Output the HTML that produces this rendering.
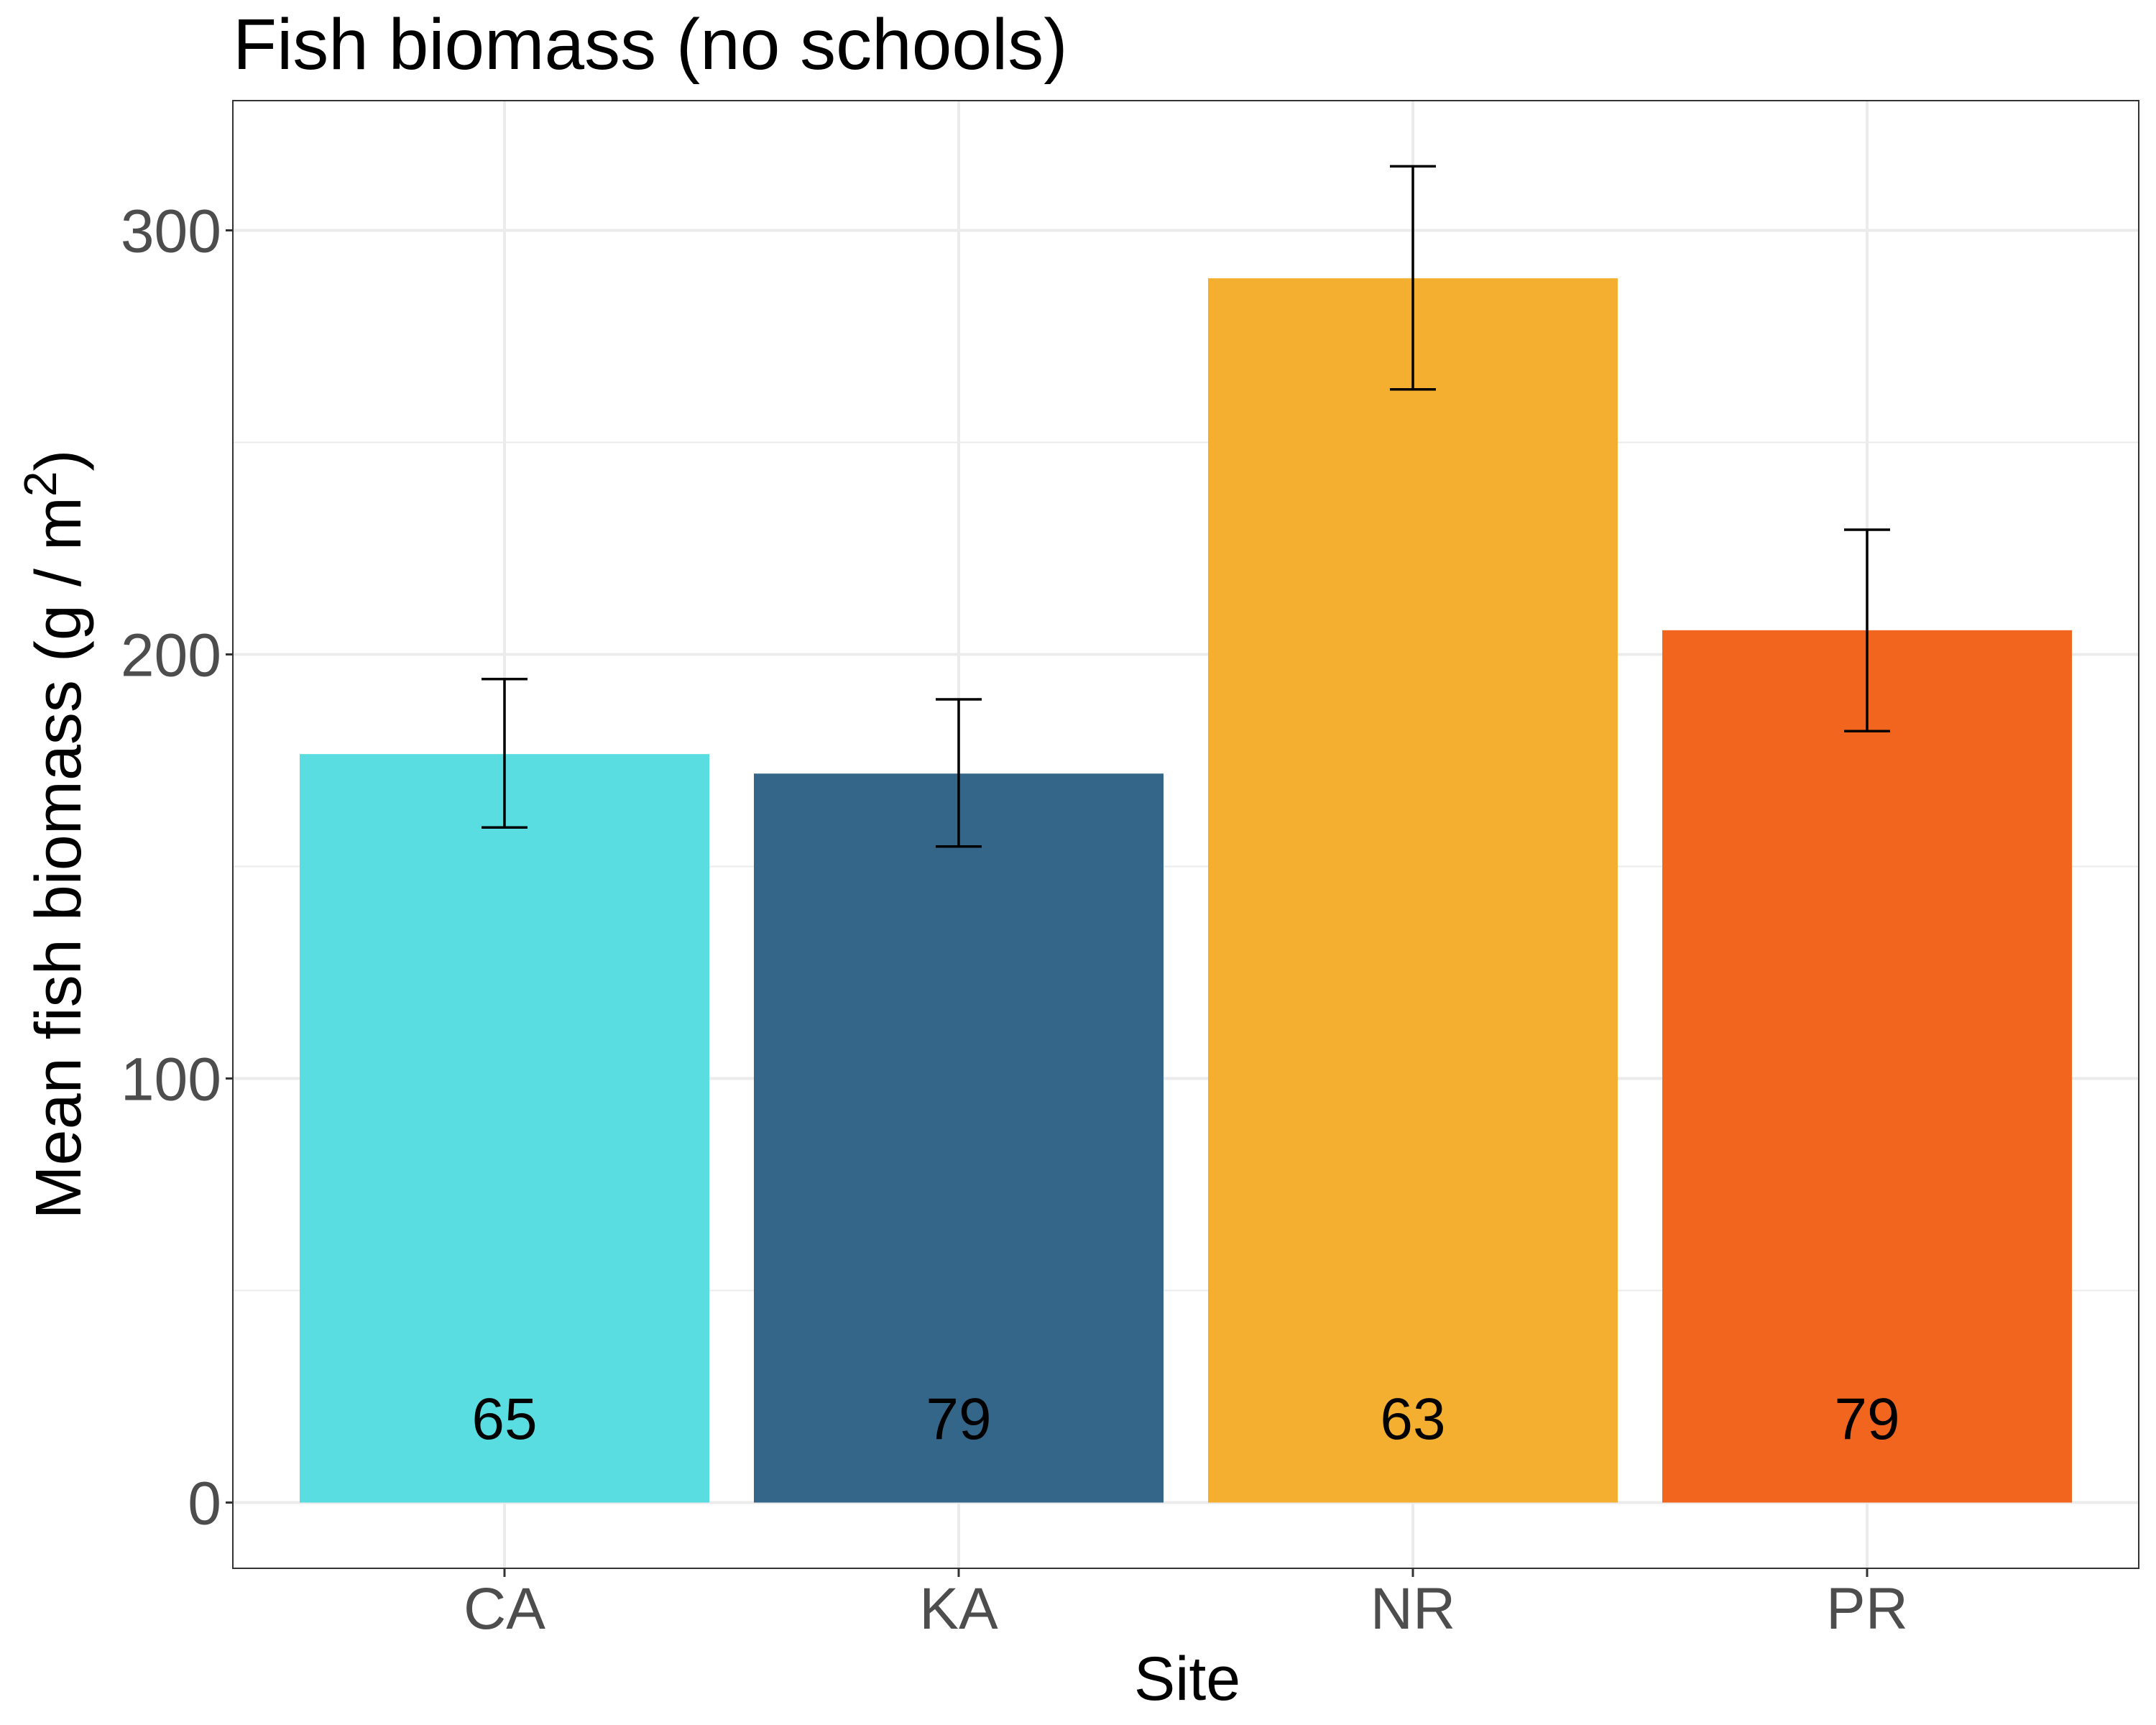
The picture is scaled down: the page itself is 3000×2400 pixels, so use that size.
<!DOCTYPE html>
<html><head><meta charset="utf-8"><style>
html,body{margin:0;padding:0;background:#fff;}
svg{display:block;font-family:"Liberation Sans",Arial,sans-serif;}
</style></head><body>
<svg id="chart" width="3000" height="2400" viewBox="0 0 3000 2400" xmlns="http://www.w3.org/2000/svg">
<text x="324" y="96" font-size="100" fill="#000">Fish biomass (no schools)</text>
<g id="grid"></g>
<g id="bars"></g>
<g id="errs"></g>
<g id="labels"></g>
<rect x="324" y="140" width="2652" height="2042" fill="none" stroke="#333" stroke-width="2"/>
<g id="axes"></g>
<text x="1652" y="2365" font-size="86" text-anchor="middle" fill="#000">Site</text>
<text transform="translate(112,1161) rotate(-90)" font-size="90" text-anchor="middle" fill="#000">Mean fish biomass (g / m<tspan font-size="64" dy="-34">2</tspan><tspan dy="34">)</tspan></text>
</svg>
<script>
const categories = ["CA","KA","NR","PR"];
const means = [176.5, 171.9, 288.7, 205.7];
const upper = [194.2, 189.4, 315.1, 229.4];
const lower = [159.2, 154.7, 262.5, 181.9];
const counts = ["65","79","63","79"];
const colors = ["#5ADDE0","#336689","#F4AF30","#F1651E"];
const yTicks = [0,100,200,300];
const yMinor = [50,150,250];

const NS="http://www.w3.org/2000/svg";
const L=324,R=2976,T=140,B=2182;
function y(v){return 2090.5 - v*5.9;}
function x(i){return 702 + i*632;}
const bw=570;
function mk(tag,attrs,parent){const e=document.createElementNS(NS,tag);for(const k in attrs)e.setAttribute(k,attrs[k]);parent.appendChild(e);return e;}
const grid=document.getElementById('grid'),bars=document.getElementById('bars'),errs=document.getElementById('errs'),labels=document.getElementById('labels'),axes=document.getElementById('axes');
yMinor.forEach(v=>{const l=mk('line',{x1:L,x2:R,y1:y(v),y2:y(v),stroke:'#EBEBEB','stroke-width':2},grid);

});
yTicks.forEach(v=>{const l=mk('line',{x1:L,x2:R,y1:y(v),y2:y(v),stroke:'#EBEBEB','stroke-width':4},grid);


const t=mk('line',{x1:L-10,x2:L,y1:y(v),y2:y(v),stroke:'#333','stroke-width':3},axes);


const tx=mk('text',{x:L-16,y:y(v)+30,'font-size':84,'text-anchor':'end',fill:'#4D4D4D'},axes);tx.textContent=v;

});
categories.forEach((c,i)=>{
const g=mk('line',{x1:x(i),x2:x(i),y1:T,y2:B,stroke:'#EBEBEB','stroke-width':4},grid);


const r=mk('rect',{x:x(i)-bw/2,y:y(means[i]),width:bw,height:y(0)-y(means[i]),fill:colors[i]},bars);


const eg=mk('path',{d:`M${x(i)-32},${y(upper[i])}H${x(i)+32}M${x(i)},${y(upper[i])}V${y(lower[i])}M${x(i)-32},${y(lower[i])}H${x(i)+32}`,stroke:'#000','stroke-width':3.5,fill:'none'},errs);


const lt=mk('text',{x:x(i),y:2002,'font-size':82,'text-anchor':'middle',fill:'#000'},labels);lt.textContent=counts[i];


const tk=mk('line',{x1:x(i),x2:x(i),y1:B,y2:B+12,stroke:'#333','stroke-width':3},axes);


const xt=mk('text',{x:x(i),y:2266,'font-size':82,'text-anchor':'middle',fill:'#4D4D4D'},axes);xt.textContent=c;


});
</script>
</body></html>
